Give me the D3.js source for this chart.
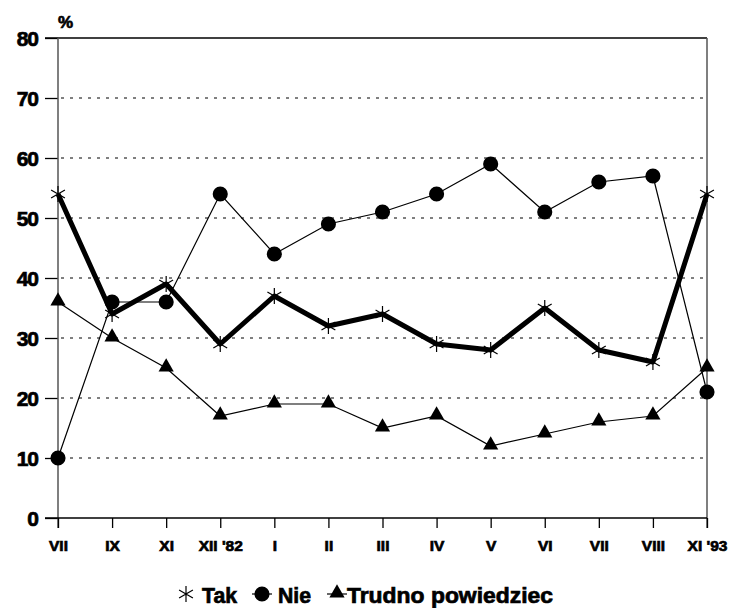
<!DOCTYPE html>
<html>
<head>
<meta charset="utf-8">
<script src="https://cdn.jsdelivr.net/npm/d3@7"></script>
<style>
body { margin: 0; background: #fff; }
svg text { font-family: "Liberation Sans", Arial, sans-serif; font-weight: bold; fill: #000; stroke: #000; stroke-width: 0.7px; }
.ylab { font-size: 21px; letter-spacing: -1px; }
.xlab { font-size: 15.5px; letter-spacing: 0px; }
.pct { font-size: 17px; }
.leg { font-size: 22px; }
</style>
</head>
<body>
<script>
//Data
const months = ["VII", "IX", "XI", "XII '82", "I", "II", "III", "IV", "V", "VI", "VII ", "VIII", "XI '93"];
const tak = [54, 34, 39, 29, 37, 32, 34, 29, 28, 35, 28, 26, 54];
const nie = [10, 36, 36, 54, 44, 49, 51, 54, 59, 51, 56, 57, 21];
const trudno = [36, 30, 25, 17, 19, 19, 15, 17, 12, 14, 16, 17, 25];
const yTicks = [0, 10, 20, 30, 40, 50, 60, 70, 80];

const width = 730, height = 608;
const plotLeft = 58, plotRight = 707, plotTop = 38, plotBottom = 518;

const svg = d3.select("body").append("svg")
    .attr("width", width)
    .attr("height", height);

//Scales
const xScale = d3.scalePoint().domain(months).range([plotLeft, plotRight]);
const yScale = d3.scaleLinear().domain([0, 80]).range([plotBottom, plotTop]);

//Gridlines (dotted)
svg.append("g")
    .selectAll("line")
    .data(yTicks.filter(d => d > 0 && d < 80))
    .join("line")
    .attr("x1", plotLeft + 3).attr("x2", plotRight)
    .attr("y1", d => yScale(d)).attr("y2", d => yScale(d))
    .attr("stroke", "#000")
    .attr("stroke-width", 1)
    .attr("stroke-dasharray", "3,6");

//Frame: top and right
svg.append("line").attr("x1", plotLeft - 13).attr("x2", plotRight).attr("y1", plotTop).attr("y2", plotTop)
    .attr("stroke", "#000").attr("stroke-width", 1.3);
svg.append("line").attr("x1", plotRight).attr("x2", plotRight).attr("y1", plotTop).attr("y2", plotBottom + 10)
    .attr("stroke", "#555").attr("stroke-width", 1.5);

//Left axis
const leftAxis = d3.axisLeft(yScale).tickValues(yTicks).tickSize(13).tickFormat(d => d);
const gy = svg.append("g").attr("transform", "translate(" + plotLeft + ",0)").call(leftAxis);
gy.select(".domain").remove();
gy.selectAll(".tick line").attr("stroke", "#000").attr("stroke-width", 1.3);
gy.selectAll(".tick text").attr("class", "ylab").attr("x", -20).attr("dy", "0.36em");
svg.append("line").attr("x1", plotLeft).attr("x2", plotLeft).attr("y1", plotTop).attr("y2", plotBottom + 10)
    .attr("stroke", "#555").attr("stroke-width", 1.5);

//Bottom axis
const bottomAxis = d3.axisBottom(xScale).tickSize(10);
const gx = svg.append("g").attr("transform", "translate(0," + plotBottom + ")").call(bottomAxis);
gx.select(".domain").remove();
gx.selectAll(".tick line").attr("stroke", "#000").attr("stroke-width", 1.3);
gx.selectAll(".tick text").attr("class", "xlab").attr("y", 22).attr("dy", "0.71em")
    .text(d => d.trim());
svg.append("line").attr("x1", plotLeft - 13).attr("x2", plotRight).attr("y1", plotBottom).attr("y2", plotBottom)
    .attr("stroke", "#000").attr("stroke-width", 1.5);

//"%" label
svg.append("text").attr("class", "pct").attr("x", 58).attr("y", 28).text("%");

//Lines
const line = d3.line().x((d, i) => xScale(months[i])).y(d => yScale(d));

svg.append("path").datum(nie).attr("d", line)
    .attr("fill", "none").attr("stroke", "#000").attr("stroke-width", 1.2);
svg.append("path").datum(trudno).attr("d", line)
    .attr("fill", "none").attr("stroke", "#000").attr("stroke-width", 1.2);
svg.append("path").datum(tak).attr("d", line)
    .attr("fill", "none").attr("stroke", "#000").attr("stroke-width", 5)
    .attr("stroke-linejoin", "round");

//Markers
const star = d3.symbol().type({
    draw(ctx, size) {
        const r = Math.sqrt(size);
        for (let k = 0; k < 3; k++) {
            const a = Math.PI / 2 + k * Math.PI / 3;
            ctx.moveTo(r * Math.cos(a), r * Math.sin(a));
            ctx.lineTo(-r * Math.cos(a), -r * Math.sin(a));
        }
    }
}).size(64);
const circle = d3.symbol().type(d3.symbolCircle).size(180);
const tri = d3.symbol().type(d3.symbolTriangle).size(100);

svg.append("g").selectAll("path").data(nie).join("path")
    .attr("transform", (d, i) => "translate(" + xScale(months[i]) + "," + yScale(d) + ")")
    .attr("d", circle).attr("fill", "#000");
svg.append("g").selectAll("path").data(trudno).join("path")
    .attr("transform", (d, i) => "translate(" + xScale(months[i]) + "," + (yScale(d) - 1) + ")")
    .attr("d", tri).attr("fill", "#000");
svg.append("g").selectAll("path").data(tak).join("path")
    .attr("transform", (d, i) => "translate(" + xScale(months[i]) + "," + yScale(d) + ")")
    .attr("d", star).attr("fill", "none").attr("stroke", "#000").attr("stroke-width", 1.2);

//Legend
const legY = 603, markY = legY - 9;
const legend = svg.append("g");
legend.append("path").attr("transform", "translate(186," + markY + ")")
    .attr("d", star).attr("fill", "none").attr("stroke", "#000").attr("stroke-width", 1.2);
legend.append("text").attr("class", "leg").attr("x", 202).attr("y", legY)
    .attr("textLength", 35).attr("lengthAdjust", "spacingAndGlyphs").text("Tak");
legend.append("line").attr("x1", 252).attr("x2", 272).attr("y1", markY).attr("y2", markY)
    .attr("stroke", "#000").attr("stroke-width", 1.2);
legend.append("path").attr("transform", "translate(262," + markY + ")")
    .attr("d", circle).attr("fill", "#000");
legend.append("text").attr("class", "leg").attr("x", 278).attr("y", legY)
    .attr("textLength", 33).attr("lengthAdjust", "spacingAndGlyphs").text("Nie");
legend.append("line").attr("x1", 327).attr("x2", 347).attr("y1", markY).attr("y2", markY)
    .attr("stroke", "#000").attr("stroke-width", 1.2);
legend.append("path").attr("transform", "translate(337," + (markY - 1) + ")")
    .attr("d", tri).attr("fill", "#000");
legend.append("text").attr("class", "leg").attr("x", 347).attr("y", legY)
    .attr("textLength", 206).attr("lengthAdjust", "spacingAndGlyphs").text("Trudno powiedziec");
</script>
</body>
</html>
